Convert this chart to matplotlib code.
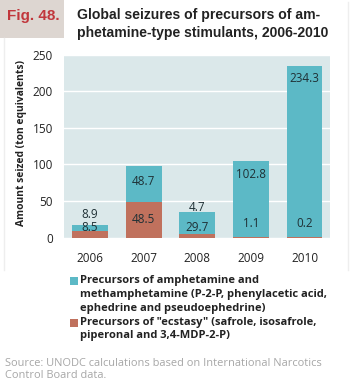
import matplotlib
matplotlib.use("Agg")
import matplotlib.pyplot as plt
from matplotlib.patches import Rectangle
from matplotlib.lines import Line2D

# ---- data ----
years = ["2006", "2007", "2008", "2009", "2010"]
amphetamine = [8.9, 48.7, 29.7, 102.8, 234.3]
ecstasy = [8.5, 48.5, 4.7, 1.1, 0.2]
yticks = [0, 50, 100, 150, 200, 250]
legend_labels = [
    "Precursors of amphetamine and\nmethamphetamine (P-2-P, phenylacetic acid,\nephedrine and pseudoephedrine)",
    "Precursors of \"ecstasy\" (safrole, isosafrole,\npiperonal and 3,4-MDP-2-P)",
]
title_tag = "Fig. 48."
title_text = "Global seizures of precursors of am-\nphetamine-type stimulants, 2006-2010"
ylabel = "Amount seized (ton equivalents)"
source = "Source: UNODC calculations based on International Narcotics\nControl Board data."

# label placement (layout, in data units)
amph_label_y = [32, 77, 14, 86.6, 216.7]
ecst_label_y = [14, 24, 41, 18.5, 18.5]

TEAL = "#5cb9c6"
BROWN = "#c0715d"
BG = "#dbe8ea"
LBL = "#1f3035"

W, H = 350, 387
fig = plt.figure(figsize=(W / 100, H / 100), dpi=100)
fig.patch.set_facecolor("white")

def fx(px):
    return px / W

def fy(py):
    return 1 - py / H

# frame lines (faint)
fig.add_artist(Line2D([fx(3.5), fx(3.5)], [fy(38), fy(270)], color="#eeeeee", lw=1))
fig.add_artist(Line2D([fx(347.5), fx(347.5)], [fy(2), fy(270)], color="#eeeeee", lw=1))

# title box
fig.add_artist(Rectangle((0, fy(38)), fx(64), 38 / H, transform=fig.transFigure,
                         facecolor="#ddd6d1", edgecolor="none"))
fig.text(fx(33), fy(16), title_tag, color="#c1373c", fontsize=11, fontweight="bold",
         family="Liberation Sans", ha="center", va="center")
fig.text(fx(77), fy(24), title_text, color="#222222", fontsize=10.1, fontweight="bold",
         family="Liberation Sans", ha="left", va="center", linespacing=1.3)

# axes
ax = fig.add_axes([fx(64), fy(239), fx(330) - fx(64), (239 - 54.5) / H])
ax.set_facecolor(BG)
x = list(range(len(years)))
ax.bar(x, ecstasy, width=0.67, color=BROWN, zorder=3)
ax.bar(x, amphetamine, width=0.67, bottom=ecstasy, color=TEAL, zorder=3)
for i in x:
    ax.text(i, amph_label_y[i], f"{amphetamine[i]:.1f}", ha="center", va="center",
            fontsize=8.4, color=LBL, family="Open Sans", zorder=4)
    ax.text(i, ecst_label_y[i], f"{ecstasy[i]:.1f}", ha="center", va="center",
            fontsize=8.4, color=LBL, family="Open Sans", zorder=4)
ax.set_xlim(-0.485, 4.475)
ax.set_ylim(-2, 250)
ax.set_yticks(yticks)
ax.set_yticklabels([str(v) for v in yticks], family="Open Sans", fontsize=8.5, color="#222222")
ax.set_xticks(x)
ax.set_xticklabels(years, family="Open Sans", fontsize=8.5, color="#222222")
ax.tick_params(axis="both", length=0)
ax.tick_params(axis="y", pad=8)
ax.tick_params(axis="x", pad=9)
ax.grid(axis="y", color="white", lw=1, zorder=1)
for s in ax.spines.values():
    s.set_visible(False)

fig.text(fx(21.5), fy(142.5), ylabel, rotation=90, ha="center", va="center",
         fontsize=7.4, fontweight="bold", family="Open Sans", color="#222222")

# legend
fig.add_artist(Rectangle((fx(70), fy(285)), fx(8), 8 / H, transform=fig.transFigure,
                         facecolor=TEAL, edgecolor="none"))
fig.add_artist(Rectangle((fx(70), fy(326.5)), fx(8), 8 / H, transform=fig.transFigure,
                         facecolor=BROWN, edgecolor="none"))
fig.text(fx(80), fy(275), legend_labels[0], ha="left", va="top", fontsize=8.0,
         fontweight="bold", family="Open Sans", color="#222222", linespacing=1.36)
fig.text(fx(80), fy(316.5), legend_labels[1], ha="left", va="top", fontsize=8.0,
         fontweight="bold", family="Open Sans", color="#222222", linespacing=1.36)

fig.text(fx(5), fy(357.5), source, ha="left", va="top", fontsize=7.95,
         family="Open Sans", color="#a6a6a6", linespacing=1.2)

fig.savefig("out.png", dpi=100)
